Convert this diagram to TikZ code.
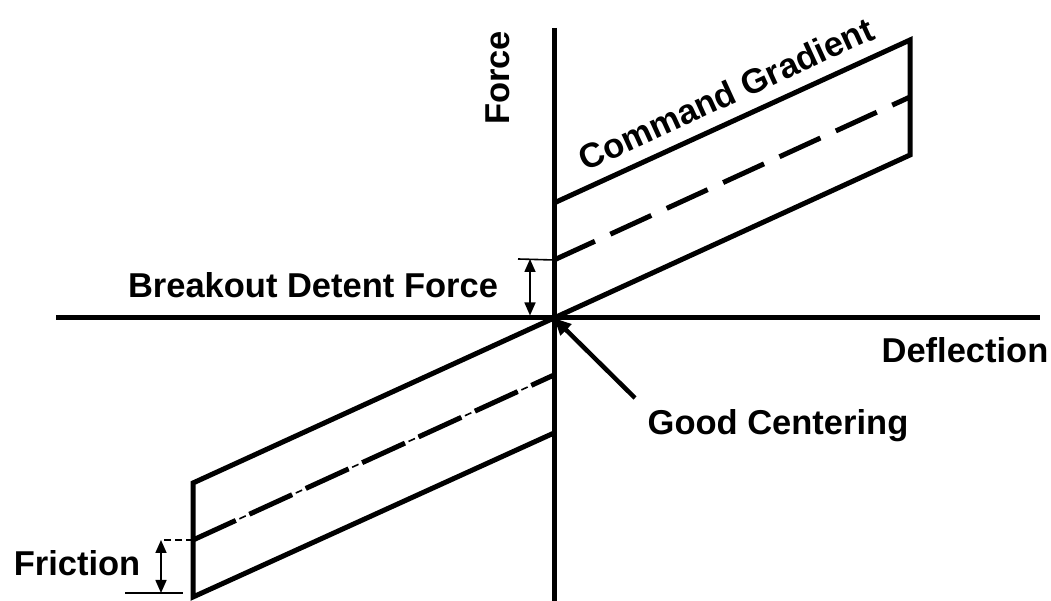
\documentclass[tikz,border=0pt]{standalone}
\usepackage{fontspec}
\setmainfont{Liberation Sans}
\usetikzlibrary{arrows.meta}

\begin{document}
\begin{tikzpicture}[x=1pt,y=1pt,
  band/.style={line width=5pt},
  dim/.style={line width=1.6pt, {Triangle[length=13pt,width=11pt]}-{Triangle[length=13pt,width=11pt]}},
  tick/.style={line width=1.6pt},
  pointer/.style={line width=4.5pt, -{Triangle[length=17pt,width=15pt]}},
  lbl/.style={font=\fontsize{34.5}{40}\selectfont\bfseries, inner sep=0pt}]
\useasboundingbox (0,0) rectangle (1051,601);
\coordinate (o) at (554,283);
\coordinate (ytop) at (554,573);
\coordinate (ybot) at (554,0);
\coordinate (xleft) at (56,283);
\coordinate (xright) at (1040,283);
\coordinate (up1) at (554,398);
\coordinate (up2) at (910,561);
\coordinate (mid1) at (554,341);
\coordinate (mid2) at (910,504);
\coordinate (low2) at (910,446);
\coordinate (dn1) at (193,118);
\coordinate (dn2) at (193,4);
\coordinate (dnlow) at (554,168);
\coordinate (dnmid) at (554,226);
\coordinate (dnmid2) at (193,61);
\draw[band] (xleft) -- (xright);
\draw[band] (ytop) -- (ybot);
\draw[band] (up1) -- (up2) -- (low2) -- (o);
\draw[band, dash pattern=on 45pt off 17pt] (mid1) -- (mid2);
\draw[band] (o) -- (dn1) -- (dn2) -- (dnlow);
\draw[band, dash pattern=on 47pt off 15pt] (dnmid2) -- (dnmid);
\draw[line width=1.6pt, dash pattern=on 47pt off 4pt on 7pt off 4pt] (dnmid2) -- (dnmid);
\coordinate (fr1) at (161,61);
\coordinate (fr2) at (161,8);
\draw[line width=1.6pt, dash pattern=on 7pt off 4pt] (dnmid2) -- (fr1);
\draw[tick] (125,8) coordinate (frt) -- (183,8);
\draw[dim] (fr1) -- (fr2);
\coordinate (bk1) at (530,342);
\coordinate (bk2) at (530,285.5);
\draw[tick] (518,342) coordinate (bkt) -- (mid1);
\draw[dim] (bk1) -- (bk2);
\coordinate (gcs) at (635,203);
\draw[pointer] (gcs) -- (o);
\node[lbl, rotate=90, anchor=south] (force) at (510,523) {Force};
\node[lbl, rotate=24.6, anchor=base] (grad) at (731,496) {Command Gradient};
\node[lbl, anchor=base] (breakout) at (313,303) {Breakout Detent Force};
\node[lbl, anchor=base] (friction) at (77,25) {Friction};
\node[lbl, anchor=base] (defl) at (965,238) {Deflection};
\node[lbl, anchor=base] (gc) at (778,166) {Good Centering};
\end{tikzpicture}
\end{document}
